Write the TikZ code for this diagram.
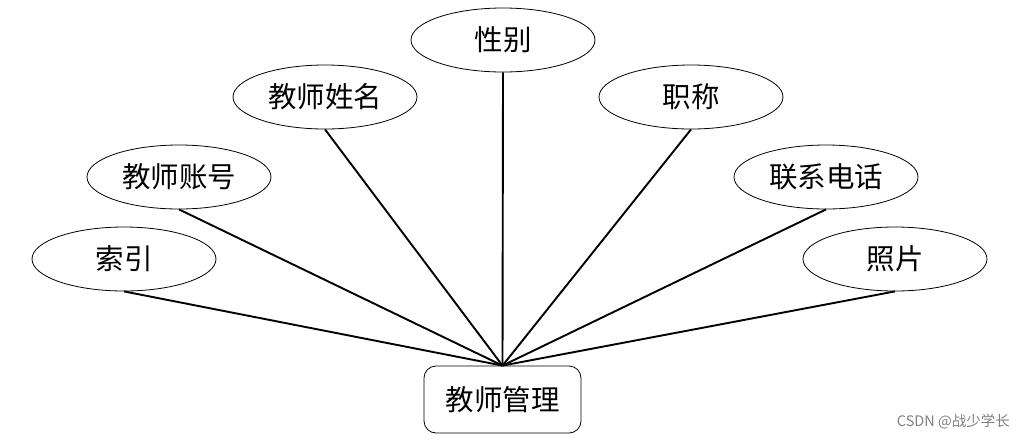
\documentclass[tikz,border=0pt]{standalone}
\usepackage{fontspec}
\newfontfamily\cjk{Noto Sans CJK SC}
\usetikzlibrary{shapes.geometric}
\begin{document}
\begin{tikzpicture}[x=1pt,y=-1pt,
  attr/.style={ellipse,draw,line width=0.8pt,minimum width=184pt,minimum height=64pt,inner sep=0pt,font=\cjk\fontsize{28.5}{30}\selectfont},
  ent/.style={rectangle,rounded corners=12pt,draw,line width=0.8pt,minimum width=157pt,minimum height=67pt,inner sep=0pt,font=\cjk\fontsize{28.5}{30}\selectfont},
  conn/.style={line width=1.9pt}]
\useasboundingbox (0,0) rectangle (1025,440);
\node[attr] (xb) at (503,40) {性别};
\node[attr] (xm) at (325,97) {教师姓名};
\node[attr] (zc) at (691,97) {职称};
\node[attr] (zh) at (179,177) {教师账号};
\node[attr] (dh) at (826,177) {联系电话};
\node[attr] (sy) at (124,259) {索引};
\node[attr] (zp) at (895,259) {照片};
\node[ent] (gl) at (502.5,399.5) {教师管理};
\foreach \n in {xb,xm,zc,zh,dh,sy,zp} \draw[conn] (\n.south) -- (gl.north);
\node[font=\cjk\fontsize{14.5}{16}\selectfont,text=black!50,anchor=east,inner sep=0pt] (wm) at (1010,422) {CSDN @战少学长};
\end{tikzpicture}
\end{document}
